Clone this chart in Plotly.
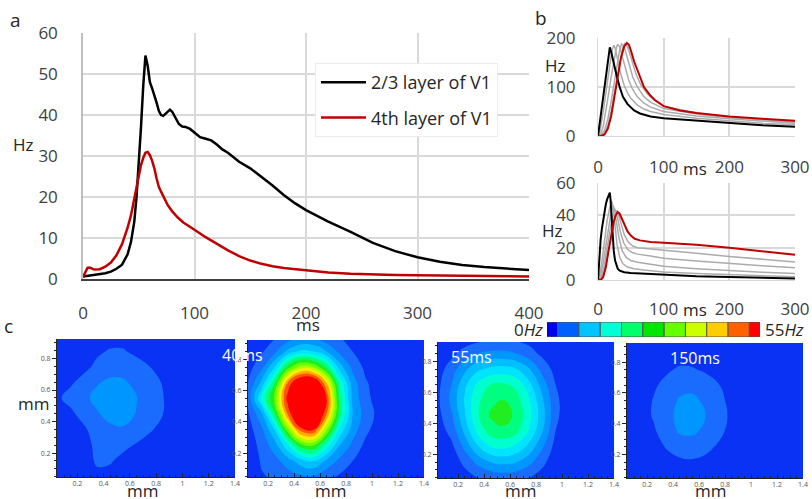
import plotly.graph_objects as go

W, H = 812, 499
def PX(p): return p / W
def PY(p): return 1 - p / H

FONT = "Open Sans"
TXT = "#262626"

# ---------------- panel a data ----------------
a_t_23 = [0,5,10,15,20,25,30,35,40,43,46,48,50,52,54,56,58,60,62,64,66,68,70,72,74,76,78,80,83,86,89,92,96,100,105,110,115,120,125,130,135,140,150,160,170,180,190,200,220,240,260,280,300,320,340,360,380,400]
a_v_23 = [0.6,0.8,1.0,1.2,1.4,1.8,2.5,3.5,6,9,14,20,28,37,47,54.5,52,48,46.5,45,43,41,40,39.8,40.3,41,41.3,40.8,39.2,37.8,37.2,37.1,36.6,35.8,34.6,34.2,33.8,32.8,31.6,30.8,29.8,28.6,27,25,22.8,20.5,18.5,16.8,14,11.5,8.8,6.8,5.3,4.2,3.4,2.9,2.5,2.2]
a_t_4 = [0,2,4,6,8,10,15,20,25,30,35,40,43,46,48,50,52,54,56,58,60,62,64,66,68,70,73,76,80,85,90,95,100,110,120,130,140,150,160,170,180,190,200,220,240,260,280,300,350,400]
a_v_4 = [0.5,1.5,2.7,2.8,2.5,2.3,2.4,3.0,4.0,5.8,8.5,12.5,15.5,19.5,22.5,25.5,27.8,29.5,30.8,31,30.2,28.8,27,24.5,22.5,21.3,19.5,18,16.5,15,13.8,12.8,12,10.2,8.5,7,5.6,4.5,3.7,3.1,2.7,2.4,2.1,1.6,1.3,1.1,1.0,0.9,0.7,0.6]
a_names = ["2/3 layer of V1", "4th layer of V1"]

# ---------------- panel b (top) data ----------------
bt_black_t = [0,5,10,15,18,20,22,25,29,33,38,45,55,64,80,100,150,200,250,300]
bt_black_v = [0,50,100,150,181,172,160,140,120,100,80,65,52,46,40,36,31,26,22,19]
bt_red_t = [0,5,10,15,20,25,30,35,40,44,47,50,55,60,64,70,80,87,100,125,150,200,250,300]
bt_red_v = [0,0,3,15,40,80,125,160,183,190,186,175,152,135,120,100,82,73,61,52,47,40,35,31]
bt_g1_t = [0,3,8,13,18,22,24,26,30,35,40,45,50,60,70,80,100,150,200,250,300]
bt_g1_v = [0,10,50,100,145,178,185,180,155,125,103,88,77,63,55,50,44,36,31,26,23]
bt_g2_t = [0,4,8,12,16,20,24,28,30,33,37,42,47,52,60,70,80,100,150,200,250,300]
bt_g2_v = [0,3,20,50,85,120,155,180,187,182,162,135,113,97,80,67,59,50,41,35,30,26]
bt_g3_t = [0,5,10,15,20,25,30,33,36,39,43,48,53,60,70,80,100,150,200,250,300]
bt_g3_v = [0,2,12,35,70,110,150,175,188,185,168,142,120,100,80,69,56,45,38,33,28]
bt_g4_t = [0,6,10,15,20,25,30,35,38,41,44,48,53,58,65,75,85,100,150,200,250,300]
bt_g4_v = [0,1,6,22,50,88,128,165,182,189,185,170,147,126,105,86,74,61,47,39,34,29]

# ---------------- panel b (bottom) data ----------------
bb_black_t = [0,2,4,6,8,10,12,14,16,18,19,20,22,24,26,28,30,33,40,50,64,80,100,150,200,250,300]
bb_black_v = [0,15,25,32,38,43,47,50,52.5,54,50,42,28,18,12,8.5,7,5.8,4.8,4.4,4.1,3.6,3,2.3,1.8,1.3,1]
bb_red_t = [0,5,8,12,16,20,24,27,30,33,36,40,45,50,56,64,80,100,150,200,250,300]
bb_red_v = [0,0.3,2,8,18,28,36,40,42,41,38,34,30,27.5,25.5,24.5,23.5,23,21.8,20,17.8,15.6]
bb_g1_t = [0,3,6,10,14,18,21,23,26,29,33,38,45,55,70,100,150,200,250,300]
bb_g1_v = [0,4,12,25,37,45,49,45,33,22,14,10,8,7,6.2,5,4,3.2,2.5,2]
bb_g2_t = [0,4,8,12,16,20,23,25,28,32,37,43,50,60,80,100,150,200,250,300]
bb_g2_v = [0,3,11,22,33,42,46,44,36,26,18,14,12,11,9.8,8.5,7,5.8,4.8,4]
bb_g3_t = [0,5,9,13,17,21,25,27,30,34,39,45,52,60,80,100,150,200,250,300]
bb_g3_v = [0,2,8,18,28,37,44,43,38,30,23,19,17,16,14.8,13.5,11.8,10.2,8.8,7.5]
bb_g4_t = [0,6,10,14,18,22,26,28,31,35,40,46,53,60,80,100,150,200,250,300]
bb_g4_v = [0,1.5,6,14,23,32,40,43,41,35,28,23.5,21,20,19.3,18.5,16.5,14.5,12.8,11.2]

# ---------------- colour bar ----------------
cbar_vals = [0, 5.5, 11, 16.5, 22, 27.5, 33, 38.5, 44, 49.5, 55]
cbar_colors = ['#0000f0', '#0060ff', '#00c4ff', '#00ffd5', '#00ff6a', '#00e600',
               '#66ff00', '#ccff00', '#ffcc00', '#ff6000', '#ff0000']

# ---------------- panel c maps (Hz on a coarse grid, mm) ----------------
map_x = [0.04, 0.15, 0.25, 0.35, 0.45, 0.55, 0.65, 0.75, 0.85, 0.95, 1.05, 1.2, 1.4]
map_y = [0.04, 0.15, 0.25, 0.35, 0.45, 0.55, 0.65, 0.75, 0.85, 0.93]
map_labels = ["40ms", "55ms", "150ms"]

map_30ms = [
    [0, 0, 1, 2.8, 2.8, 1.8, 0.6, 0, 0, 0, 0, 0, 0],
    [0, 0.3, 2, 4.6, 4.3, 3, 1.5, 0.5, 0, 0, 0, 0, 0],
    [0, 0.6, 2.5, 5, 5.5, 4.8, 3.7, 2, 0.7, 0, 0, 0, 0],
    [0.3, 1.5, 3.5, 5.5, 7, 7.5, 6, 4.6, 2.5, 0.6, 0, 0, 0],
    [1.5, 3.4, 5.2, 7.6, 9.6, 9.8, 7.8, 5.8, 4.1, 1.4, 0.2, 0, 0],
    [3.4, 5, 7, 9.2, 10.5, 10.5, 8.2, 6, 4.2, 1.5, 0.3, 0, 0],
    [1.8, 3.6, 5, 7.6, 8.8, 8.6, 6.8, 5.2, 3.8, 1, 0, 0, 0],
    [0.5, 1.5, 3.2, 4.6, 6, 6, 5.2, 4, 2, 0.5, 0, 0, 0],
    [0, 0.5, 2, 3.5, 4.2, 4.2, 3.2, 1.8, 0.5, 0, 0, 0, 0],
    [0, 0, 1, 2.5, 3, 3, 2, 1, 0, 0, 0, 0, 0],
]
map_40ms = [
    [0, 3.5, 4.5, 5.5, 6.5, 6.5, 4.5, 3, 1.5, 0.5, 0, 0, 0],
    [0.5, 4.5, 6.5, 10, 14, 16, 11, 7, 4, 1.5, 0, 0, 0],
    [1, 5.5, 10, 19, 30, 32, 22, 12, 7, 3, 1, 0, 0],
    [2, 7, 16, 34, 50, 52, 36, 19, 10, 5, 2, 0.5, 0],
    [3, 11, 27, 48, 64, 64, 48, 26, 12, 6, 3, 0.5, 0],
    [4.5, 20, 33, 54, 66, 66, 52, 26, 11, 5, 2.5, 0.5, 0],
    [3.5, 13, 27, 48, 60, 60, 44, 23, 10, 4.5, 2, 0.5, 0],
    [2, 7, 16, 30, 38, 36, 27, 14, 7, 3, 1, 0, 0],
    [1, 3.5, 7, 13, 17, 16, 12, 7, 4, 1.5, 0.5, 0, 0],
    [0, 1.5, 4, 6.5, 8, 8, 6, 4.5, 2, 1, 0, 0, 0],
]
map_55ms = [
    [0, 0.5, 2, 3.5, 4.5, 5, 4.5, 3.5, 2, 0.5, 0, 0, 0],
    [0, 1.5, 5, 9, 12, 13, 12, 9, 5, 1.5, 0, 0, 0],
    [0.5, 3, 9, 15.5, 20, 21, 19, 14.5, 8.5, 2.5, 0.5, 0, 0],
    [1.5, 5.5, 13, 21, 26, 27, 25, 19.5, 12, 4, 1, 0, 0],
    [2.5, 7.5, 15.5, 23.5, 28.5, 30, 27, 21, 13.5, 5, 1.5, 0, 0],
    [3, 9, 16.5, 23, 27, 28, 25.5, 20, 12.5, 5, 1.5, 0, 0],
    [2.8, 8, 15, 21, 24, 24.5, 23, 17, 10, 4, 1, 0, 0],
    [2, 6, 11, 15, 17, 17.5, 16, 12, 6.5, 2.5, 0.5, 0, 0],
    [1, 3, 5.5, 8, 9, 9, 8, 5.5, 3, 1, 0, 0, 0],
    [0, 1, 2.5, 3.5, 4.2, 4.5, 4, 3, 1.5, 0.5, 0, 0, 0],
]
map_150ms = [
    [0, 0, 0, 1, 1.5, 1.5, 1, 0, 0, 0, 0, 0, 0],
    [0, 0, 1.2, 2.5, 3.3, 3.5, 3, 2, 0.5, 0, 0, 0, 0],
    [0, 1, 2.5, 4.3, 5.5, 5.8, 5, 3.5, 1.5, 0.3, 0, 0, 0],
    [0, 1.8, 3.5, 5.8, 8.5, 8.8, 7, 5, 2.8, 0.8, 0, 0, 0],
    [0, 2.6, 4.3, 6.3, 9.5, 10, 8, 5.5, 3.3, 1, 0, 0, 0],
    [0, 2.5, 4.2, 6, 8.5, 9, 7.2, 5, 3, 1, 0, 0, 0],
    [0, 1.5, 3.5, 5, 6.5, 6.8, 5.8, 4.2, 2, 0.5, 0, 0, 0],
    [0, 0.5, 2, 3.5, 4.5, 4.3, 3.5, 2, 0.5, 0, 0, 0, 0],
    [0, 0, 0.5, 1.5, 2.5, 2.5, 1.5, 0.5, 0, 0, 0, 0, 0],
    [0, 0, 0, 0.5, 1, 1, 0.5, 0, 0, 0, 0, 0, 0],
]
maps = [map_30ms, map_40ms, map_55ms, map_150ms]

band_colors = ['#0a32f5', '#1a6cff', '#0096ff', '#00bfff', '#00e5ff', '#00ffd0', '#00ff80',
               '#20ee20', '#66ff00', '#b0ff00', '#ffee00', '#ffaa00', '#ff5500', '#ff0000']
cscale = [[i / (len(band_colors) - 1), c] for i, c in enumerate(band_colors)]

fig = go.Figure()

# ---- panel a ----
fig.add_trace(go.Scatter(x=a_t_23, y=a_v_23, mode='lines', name=a_names[0], legendgroup='g1',
                         line=dict(color='black', width=2.5), xaxis='x', yaxis='y'))
fig.add_trace(go.Scatter(x=a_t_4, y=a_v_4, mode='lines', name=a_names[1], legendgroup='g2',
                         line=dict(color='#c00000', width=2.5), xaxis='x', yaxis='y'))

# ---- panel b ----
grey = '#ababab'
for t, v in [(bt_g1_t, bt_g1_v), (bt_g2_t, bt_g2_v), (bt_g3_t, bt_g3_v), (bt_g4_t, bt_g4_v)]:
    fig.add_trace(go.Scatter(x=t, y=v, mode='lines', showlegend=False,
                             line=dict(color=grey, width=1.5), xaxis='x2', yaxis='y2'))
fig.add_trace(go.Scatter(x=bt_black_t, y=bt_black_v, mode='lines', showlegend=False,
                         line=dict(color='black', width=2), xaxis='x2', yaxis='y2'))
fig.add_trace(go.Scatter(x=bt_red_t, y=bt_red_v, mode='lines', showlegend=False,
                         line=dict(color='#c00000', width=2), xaxis='x2', yaxis='y2'))
for t, v in [(bb_g1_t, bb_g1_v), (bb_g2_t, bb_g2_v), (bb_g3_t, bb_g3_v), (bb_g4_t, bb_g4_v)]:
    fig.add_trace(go.Scatter(x=t, y=v, mode='lines', showlegend=False,
                             line=dict(color=grey, width=1.5), xaxis='x3', yaxis='y3'))
fig.add_trace(go.Scatter(x=bb_black_t, y=bb_black_v, mode='lines', showlegend=False,
                         line=dict(color='black', width=2), xaxis='x3', yaxis='y3'))
fig.add_trace(go.Scatter(x=bb_red_t, y=bb_red_v, mode='lines', showlegend=False,
                         line=dict(color='#c00000', width=2), xaxis='x3', yaxis='y3'))

# ---- colour bar ----
fig.add_trace(go.Bar(x=cbar_vals, y=[1] * len(cbar_vals), width=5.5, showlegend=False,
                     marker=dict(color=cbar_colors, line=dict(color='#555555', width=1)),
                     xaxis='x4', yaxis='y4', hoverinfo='skip'))

# ---- maps ----
for i, z in enumerate(maps):
    fig.add_trace(go.Contour(x=map_x, y=map_y, z=z, colorscale=cscale, showscale=False,
                             contours=dict(start=4, end=52, size=4, coloring='fill'),
                             line=dict(width=0, smoothing=1.3),
                             xaxis='x%d' % (5 + i), yaxis='y%d' % (5 + i)))

grid = '#d9d9d9'
tickfont = dict(family=FONT, size=17, color='#404040')
layout = dict(
    width=W, height=H, margin=dict(l=0, r=0, t=0, b=0, autoexpand=False),
    paper_bgcolor='white', plot_bgcolor='white',
    font=dict(family=FONT, color=TXT),
    showlegend=True,
    legend=dict(x=PX(315), y=PY(63), xanchor='left', yanchor='top',
                bgcolor='white', bordercolor='#ececec', borderwidth=1,
                font=dict(family=FONT, size=18, color=TXT), tracegroupgap=9,
                traceorder='grouped', itemwidth=45),
    xaxis=dict(domain=[PX(83), PX(529)], range=[0, 400], tickvals=[0, 100, 200, 300, 400],
               showgrid=True, gridcolor=grid, gridwidth=1.5, zeroline=False,
               showline=True, linecolor='#404040', linewidth=2, ticks='',
               tickfont=tickfont, ticklabelstandoff=18, anchor='y', automargin=False),
    yaxis=dict(domain=[PY(279), PY(33)], range=[0, 60], tickvals=[0, 10, 20, 30, 40, 50, 60],
               showgrid=True, gridcolor=grid, gridwidth=1.5, zeroline=False,
               showline=True, linecolor='#bfbfbf', linewidth=1.5, ticks='',
               tickfont=tickfont, ticklabelstandoff=20, anchor='x', automargin=False),
    xaxis2=dict(domain=[PX(598), PX(795)], range=[0, 300], tickvals=[0, 100, 200, 300],
                showgrid=True, gridcolor=grid, gridwidth=1.5, zeroline=False,
                showline=True, linecolor=grid, ticks='', tickfont=tickfont,
                ticklabelstandoff=16, anchor='y2', automargin=False),
    yaxis2=dict(domain=[PY(136), PY(38)], range=[0, 200], tickvals=[0, 100, 200],
                showgrid=True, gridcolor=grid, gridwidth=1.5, zeroline=False,
                showline=True, linecolor=grid, ticks='', tickfont=tickfont,
                ticklabelstandoff=18, anchor='x2', automargin=False),
    xaxis3=dict(domain=[PX(598), PX(795)], range=[0, 300], tickvals=[0, 100, 200, 300],
                showgrid=True, gridcolor=grid, gridwidth=1.5, zeroline=False,
                showline=True, linecolor=grid, ticks='', tickfont=tickfont,
                ticklabelstandoff=14, anchor='y3', automargin=False),
    yaxis3=dict(domain=[PY(280), PY(183)], range=[0, 60], tickvals=[0, 20, 40, 60],
                showgrid=True, gridcolor=grid, gridwidth=1.5, zeroline=False,
                showline=True, linecolor=grid, ticks='', tickfont=tickfont,
                ticklabelstandoff=18, anchor='x3', automargin=False),
    xaxis4=dict(domain=[PX(547), PX(760)], range=[0, 55], visible=False, anchor='y4',
                fixedrange=True),
    yaxis4=dict(domain=[PY(337), PY(322)], range=[0, 1], visible=False, anchor='x4',
                fixedrange=True),
)

map_boxes = [(57, 235, 339, 477), (248, 424, 340, 477), (438, 614, 342, 478), (627, 803, 343, 478)]
mfont = dict(family=FONT, size=7, color='#555555')
for i, (l, r, t, b) in enumerate(map_boxes):
    n = 5 + i
    layout['xaxis%d' % n] = dict(domain=[PX(l), PX(r)], range=[0.045, 1.4], dtick=0.2, tick0=0,
                                 showgrid=False, zeroline=False, showline=True, linecolor='#222',
                                 linewidth=1, ticks='inside', ticklen=4, tickcolor='#222',
                                 minor=dict(ticks='inside', ticklen=2, dtick=0.05, tickcolor='#222'),
                                 tickfont=mfont, anchor='y%d' % n, automargin=False)
    layout['yaxis%d' % n] = dict(domain=[PY(b), PY(t)], range=[0.048, 0.924], dtick=0.2, tick0=0,
                                 showgrid=False, zeroline=False, showline=True, linecolor='#222',
                                 linewidth=1, ticks='outside', ticklen=4, tickcolor='#222',
                                 minor=dict(ticks='outside', ticklen=2, dtick=0.05, tickcolor='#222'),
                                 tickfont=mfont, anchor='x%d' % n, automargin=False)

fig.update_layout(**layout)

def ann(text, x, y, size=17, color=TXT, xanchor='center', yanchor='middle'):
    fig.add_annotation(text=text, x=PX(x), y=PY(y), xref='paper', yref='paper',
                       showarrow=False, font=dict(family=FONT, size=size, color=color),
                       xanchor=xanchor, yanchor=yanchor)

ann('a', 15, 20, size=19)
ann('b', 541, 18, size=19)
ann('c', 8, 326, size=19)
ann('Hz', 23, 145)
ann('ms', 308, 324)
ann('Hz', 555, 65)
ann('Hz', 552, 230)
ann('ms', 695, 168)
ann('ms', 695, 309)
ann('0<i>Hz</i>', 545, 329, xanchor='right')
ann('55<i>Hz</i>', 763, 329, xanchor='left')
ann('mm', 33, 403)
for xc in [142, 330, 520, 710]:
    ann('mm', xc, 490)
ann(map_labels[0], 242, 355, size=16, color='white')
ann(map_labels[1], 472, 357, size=16, color='white')
ann(map_labels[2], 695, 358, size=16, color='white')

fig.write_html("out.html", config={'displayModeBar': False},
               post_script="document.body.style.margin='0px';document.body.style.overflow='hidden';")
